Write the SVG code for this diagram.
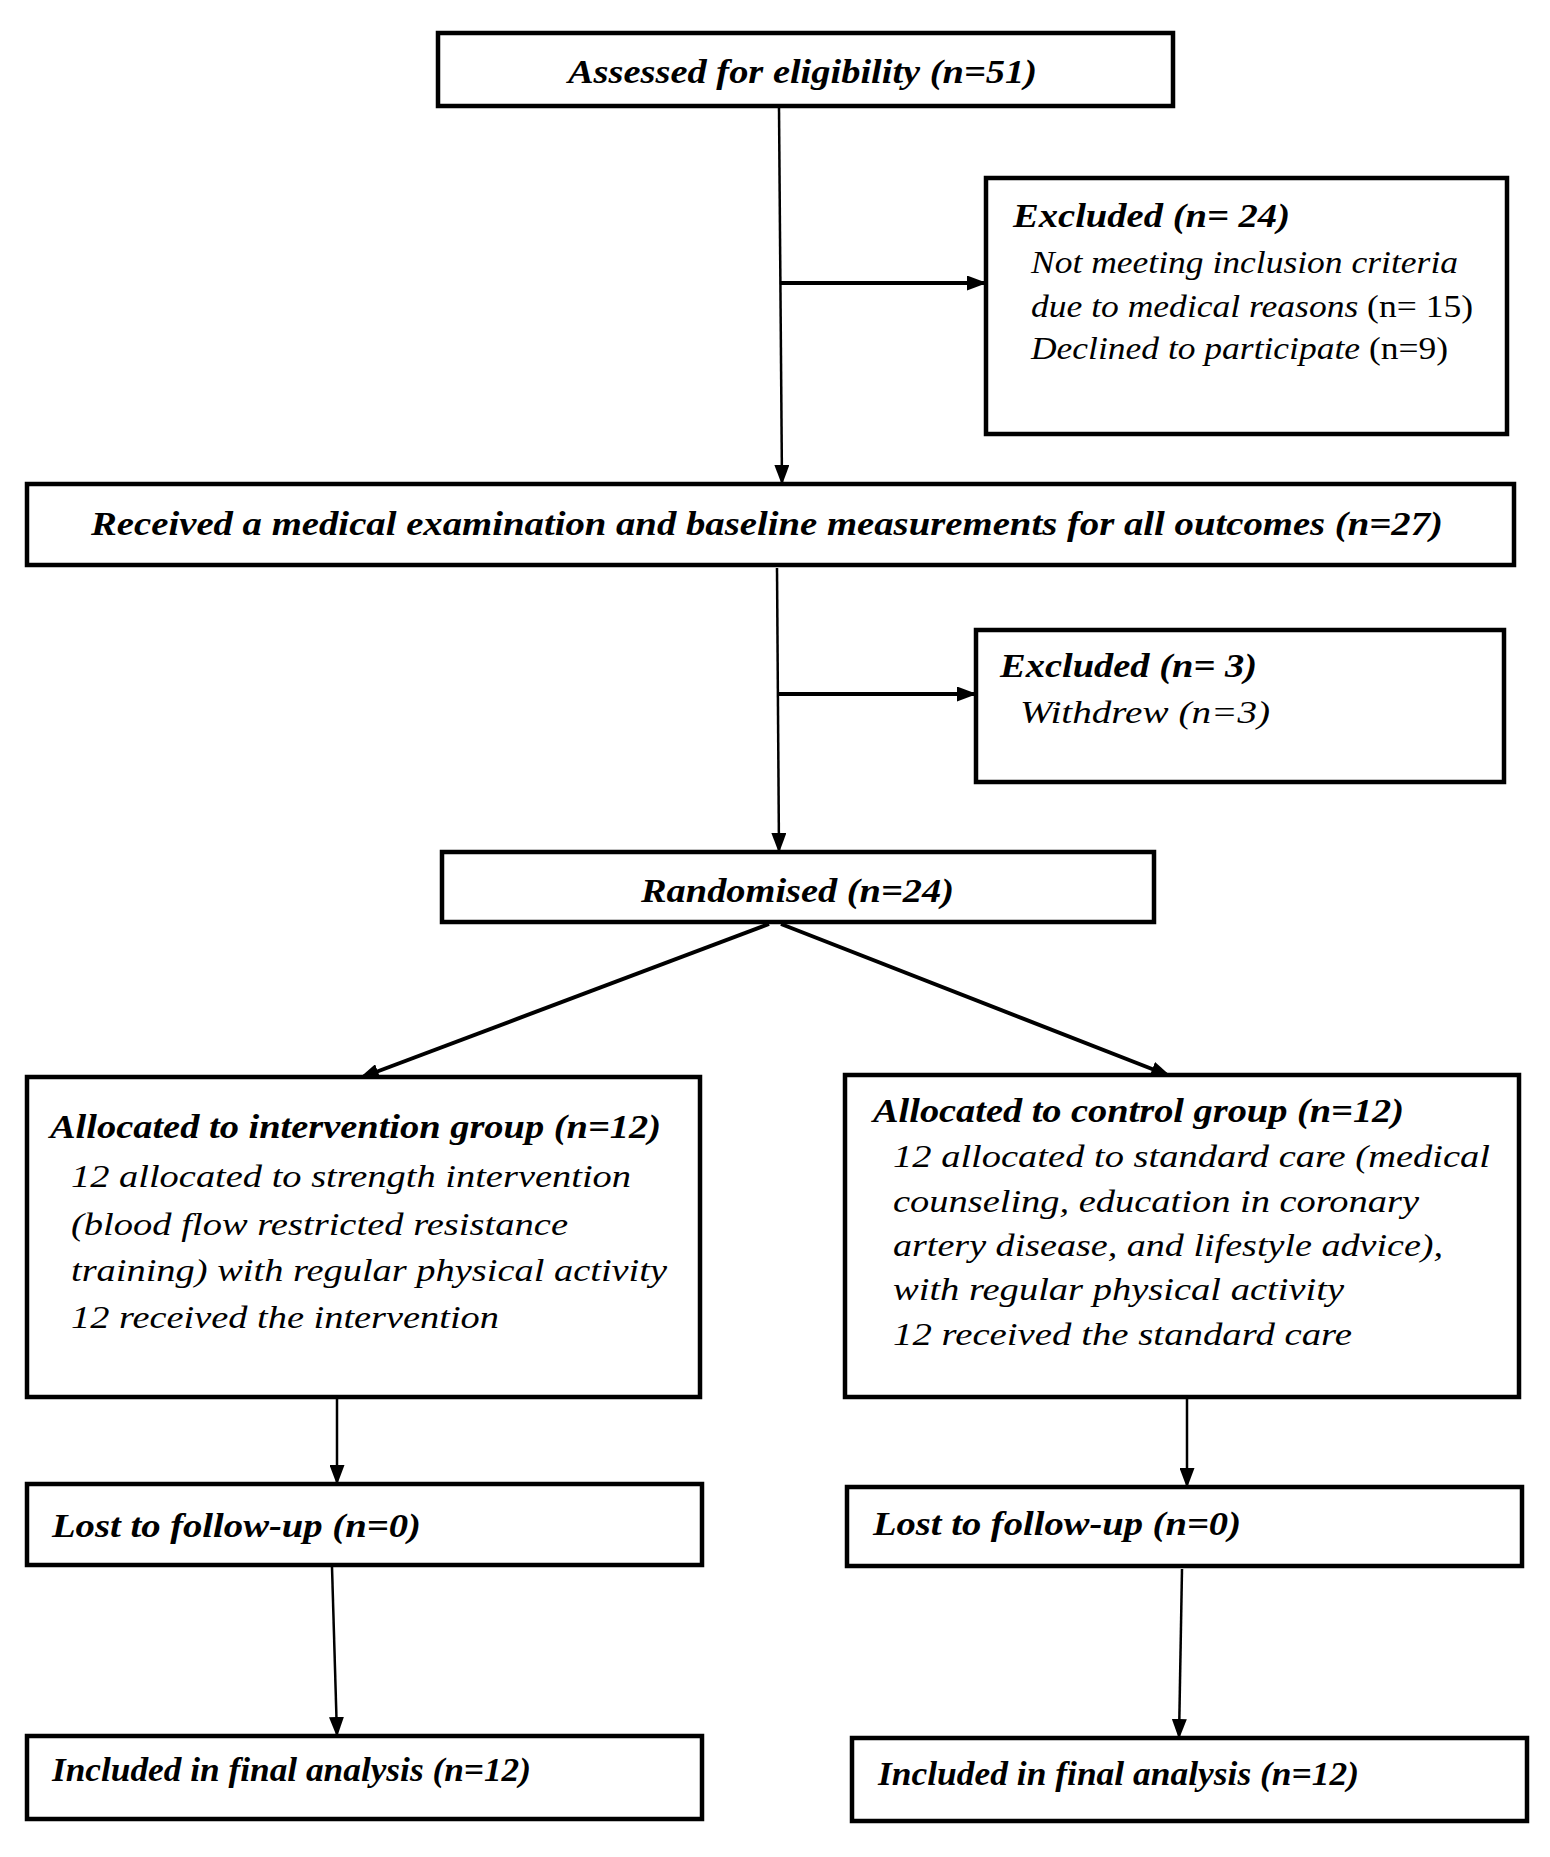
<svg xmlns="http://www.w3.org/2000/svg" width="1550" height="1857" viewBox="0 0 1550 1857">
<style>
.box{fill:#fff;stroke:#000;stroke-width:4.5}
.t{font-family:"Liberation Serif","Times New Roman",serif;font-style:italic;font-weight:bold;font-size:34px;fill:#000}
.b{font-family:"Liberation Serif","Times New Roman",serif;font-style:italic;font-weight:normal;font-size:32px;fill:#000}
.up{font-style:normal}
.ln{fill:none;stroke:#000;stroke-width:2.5}
.lt{fill:none;stroke:#000;stroke-width:4}
</style>
<defs>
<marker id="ah" viewBox="0 0 10 10" refX="9.5" refY="5" markerWidth="20" markerHeight="15" preserveAspectRatio="none" markerUnits="userSpaceOnUse" orient="auto">
<path d="M0,0 L10,5 L0,10 z" fill="#000"/>
</marker>
</defs>
<rect width="1550" height="1857" fill="#fff"/>
<g id="connectors">
<line class="ln" x1="779" y1="108" x2="782" y2="484" marker-end="url(#ah)"/>
<line class="lt" x1="781" y1="283" x2="986" y2="283" marker-end="url(#ah)"/>
<line class="ln" x1="777" y1="568" x2="779" y2="852" marker-end="url(#ah)"/>
<line class="lt" x1="779" y1="694" x2="976" y2="694" marker-end="url(#ah)"/>
<line class="lt" x1="769" y1="924" x2="360" y2="1078" marker-end="url(#ah)"/>
<line class="lt" x1="781" y1="924" x2="1170" y2="1076" marker-end="url(#ah)"/>
<line class="ln" x1="337" y1="1398" x2="337" y2="1484" marker-end="url(#ah)"/>
<line class="ln" x1="1187" y1="1399" x2="1187" y2="1487" marker-end="url(#ah)"/>
<line class="ln" x1="332" y1="1567" x2="337" y2="1736" marker-end="url(#ah)"/>
<line class="ln" x1="1182" y1="1569" x2="1179" y2="1738" marker-end="url(#ah)"/>
</g>
<g id="assessed">
<rect class="box" x="438" y="33" width="735" height="73"/>
<text class="t" x="568" y="83" textLength="469" lengthAdjust="spacingAndGlyphs">Assessed for eligibility (n=51)</text>
</g>
<g id="excluded1">
<rect class="box" x="986" y="178" width="521" height="256"/>
<text class="t" x="1013" y="227" textLength="277" lengthAdjust="spacingAndGlyphs">Excluded (n= 24)</text>
<text class="b" x="1031" y="273" textLength="427" lengthAdjust="spacingAndGlyphs">Not meeting inclusion criteria</text>
<text class="b" x="1031" y="317" textLength="442" lengthAdjust="spacingAndGlyphs">due to medical reasons <tspan class="up">(n= 15)</tspan></text>
<text class="b" x="1031" y="359" textLength="417" lengthAdjust="spacingAndGlyphs">Declined to participate <tspan class="up">(n=9)</tspan></text>
</g>
<g id="baseline">
<rect class="box" x="27" y="484" width="1487" height="81"/>
<text class="t" x="91" y="535" textLength="1352" lengthAdjust="spacingAndGlyphs">Received a medical examination and baseline measurements for all outcomes (n=27)</text>
</g>
<g id="excluded2">
<rect class="box" x="976" y="630" width="528" height="152"/>
<text class="t" x="1000" y="677" textLength="257" lengthAdjust="spacingAndGlyphs">Excluded (n= 3)</text>
<text class="b" x="1020" y="723" textLength="250" lengthAdjust="spacingAndGlyphs">Withdrew (n=3)</text>
</g>
<g id="randomised">
<rect class="box" x="442" y="852" width="712" height="70"/>
<text class="t" x="641" y="902" textLength="313" lengthAdjust="spacingAndGlyphs">Randomised (n=24)</text>
</g>
<g id="intervention">
<rect class="box" x="27" y="1077" width="673" height="320"/>
<text class="t" x="50" y="1138" textLength="611" lengthAdjust="spacingAndGlyphs">Allocated to intervention group (n=12)</text>
<text class="b" x="71" y="1187" textLength="560" lengthAdjust="spacingAndGlyphs">12 allocated to strength intervention</text>
<text class="b" x="71" y="1235" textLength="497" lengthAdjust="spacingAndGlyphs">(blood flow restricted resistance</text>
<text class="b" x="71" y="1281" textLength="596" lengthAdjust="spacingAndGlyphs">training) with regular physical activity</text>
<text class="b" x="71" y="1328" textLength="428" lengthAdjust="spacingAndGlyphs">12 received the intervention</text>
</g>
<g id="control">
<rect class="box" x="845" y="1075" width="674" height="322"/>
<text class="t" x="873" y="1122" textLength="531" lengthAdjust="spacingAndGlyphs">Allocated to control group (n=12)</text>
<text class="b" x="893" y="1167" textLength="597" lengthAdjust="spacingAndGlyphs">12 allocated to standard care (medical</text>
<text class="b" x="893" y="1212" textLength="526" lengthAdjust="spacingAndGlyphs">counseling, education in coronary</text>
<text class="b" x="893" y="1256" textLength="550" lengthAdjust="spacingAndGlyphs">artery disease, and lifestyle advice),</text>
<text class="b" x="893" y="1300" textLength="451" lengthAdjust="spacingAndGlyphs">with regular physical activity</text>
<text class="b" x="893" y="1345" textLength="459" lengthAdjust="spacingAndGlyphs">12 received the standard care</text>
</g>
<g id="lost-left">
<rect class="box" x="27" y="1484" width="675" height="81"/>
<text class="t" x="52" y="1537" textLength="369" lengthAdjust="spacingAndGlyphs">Lost to follow-up (n=0)</text>
</g>
<g id="lost-right">
<rect class="box" x="847" y="1487" width="675" height="79"/>
<text class="t" x="873" y="1535" textLength="368" lengthAdjust="spacingAndGlyphs">Lost to follow-up (n=0)</text>
</g>
<g id="included-left">
<rect class="box" x="27" y="1736" width="675" height="83"/>
<text class="t" x="52" y="1781" textLength="479" lengthAdjust="spacingAndGlyphs">Included in final analysis (n=12)</text>
</g>
<g id="included-right">
<rect class="box" x="852" y="1738" width="675" height="83"/>
<text class="t" x="878" y="1785" textLength="481" lengthAdjust="spacingAndGlyphs">Included in final analysis (n=12)</text>
</g>
</svg>
